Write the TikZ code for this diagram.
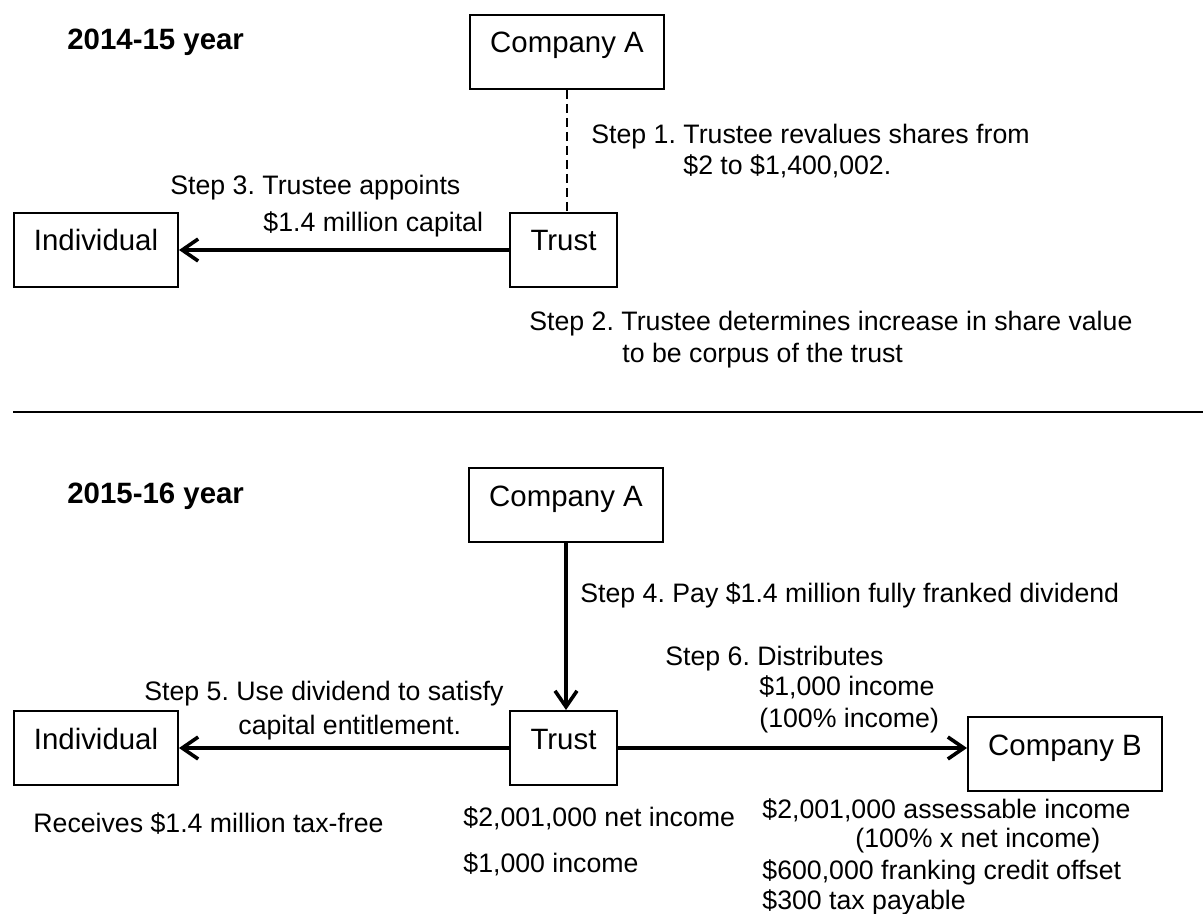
\documentclass[tikz,border=0pt]{standalone}
\usepackage{fontspec}
\setmainfont{Liberation Sans}
\usetikzlibrary{arrows.meta}
\frenchspacing

\begin{document}
\begin{tikzpicture}[x=0.5pt,y=-0.5pt,font=\fontsize{13.35pt}{16pt}\selectfont]

    \useasboundingbox (0,0) rectangle (1203,914);

    \begin{scope}[every node/.style={draw,line width=1pt,rectangle,inner sep=0pt,anchor=north west,text height=19pt,text depth=18pt,font=\fontsize{14.7pt}{17pt}\selectfont}]
        \node[minimum width=97pt] (ca1) at (469,14) {Company A}; % 2014-15 year
        \node[minimum width=53.5pt] (tr1) at (509,212) {Trust};
        \node[minimum width=82pt] (in1) at (13,212) {Individual};
        \node[minimum width=97pt] (ca2) at (468,467) {Company A}; % 2015-16 year
        \node[minimum width=53.5pt] (tr2) at (509,710) {Trust};
        \node[minimum width=82pt] (in2) at (13,710) {Individual};
        \node[minimum width=97pt] (cb2) at (967,716) {Company B};
    \end{scope}

    \begin{scope}[every node/.style={anchor=base west,inner sep=0pt}]
        \node[font=\fontsize{14.7pt}{17pt}\selectfont\bfseries] (yr1) at (67,50) {2014-15 year};
        \node[font=\fontsize{14.7pt}{17pt}\selectfont\bfseries] (yr2) at (67,503) {2015-16 year};
        % Steps 1 to 3 %
        \node (s1a) at (591,144) {Step 1. Trustee revalues shares from};
        \node (s1b) at (683,175) {\$2 to \$1,400,002.};
        \node (s3a) at (170,195) {Step 3. Trustee appoints};
        \node (s3b) at (263,232) {\$1.4 million capital};
        \node (s2a) at (529,330) {Step 2. Trustee determines increase in share value};
        \node (s2b) at (622,362) {to be corpus of the trust};
        % Steps 4 to 6 %
        \node (s4) at (580,602) {Step 4. Pay \$1.4 million fully franked dividend};
        \node (s6a) at (665,665) {Step 6. Distributes};
        \node (s6b) at (759,695) {\$1,000 income};
        \node (s6c) at (759,727) {(100\% income)};
        \node (s5a) at (144,700) {Step 5. Use dividend to satisfy};
        \node (s5b) at (238,734) {capital entitlement.};
        % results %
        \node (rin) at (33,832) {Receives \$1.4 million tax-free};
        \node (rtr1) at (463,826) {\$2,001,000 net income};
        \node (rtr2) at (463,872) {\$1,000 income};
        \node (rcb1) at (762,818) {\$2,001,000 assessable income};
        \node (rcb2) at (855,847) {(100\% x net income)};
        \node (rcb3) at (762,879) {\$600,000 franking credit offset};
        \node (rcb4) at (762,909) {\$300 tax payable};
    \end{scope}

    \coordinate (ruleL) at (13,412);
    \coordinate (ruleR) at (1203,412);
    \draw[line width=1pt] (ruleL) -- (ruleR);

    \begin{scope}[every edge/.style={draw,line width=1.8pt,-{Straight Barb[length=8pt,width=11pt]}}]
        \path (ca1.south) edge [line width=0.6pt,dash pattern=on 4.5pt off 2.5pt,-] (ca1.south |- tr1.north);
        \path (tr1) edge (in1);
        \path (ca2.south) edge (ca2.south |- tr2.north);
        \path (tr2) edge (in2);
        \path (tr2.east) edge (tr2.east -| cb2.west);
    \end{scope}

\end{tikzpicture}
\end{document}
